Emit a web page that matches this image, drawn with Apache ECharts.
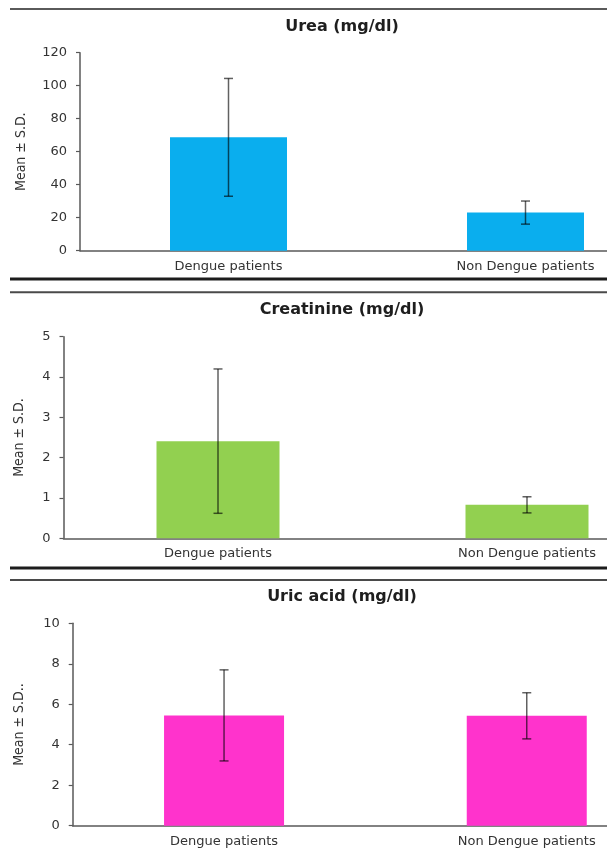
<!DOCTYPE html>
<html>
<head>
<meta charset="utf-8">
<script src="https://cdn.jsdelivr.net/npm/echarts@6/dist/echarts.min.js"></script>
<style>
html,body{margin:0;padding:0;background:#fff;overflow:hidden;}
#wrap{width:607px;height:850px;overflow:hidden;}
#chart{width:700px;height:850px;}
</style>
</head>
<body>
<div id="wrap"><div id="chart"></div></div>
<script>
// ---- data ----
var categories = ['Dengue patients', 'Non Dengue patients'];
var titles = ['Urea (mg/dl)', 'Creatinine (mg/dl)', 'Uric acid (mg/dl)'];
var yNames = ['Mean \u00B1 S.D.', 'Mean \u00B1 S.D.', 'Mean \u00B1 S.D..'];
var ureaMean = [68.7, 23.1];
var ureaSD = [35.7, 7.0];
var creatMean = [2.41, 0.83];
var creatSD = [1.79, 0.20];
var uricMean = [5.45, 5.43];
var uricSD = [2.25, 1.14];
var yMax = [120, 5, 10];
var yStep = [20, 1, 2];

var means = [ureaMean, creatMean, uricMean];
var sds = [ureaSD, creatSD, uricSD];
var colors = ['#0aaeee', '#92d050', '#ff33cc'];

// ---- layout ----
var grids = [
  {left: 80, top: 52.7, width: 594, height: 198},
  {left: 63.5, top: 336.7, width: 618, height: 201.6},
  {left: 72.7, top: 623.3, width: 605.4, height: 202.4}
];
var titleY = [28, 311.7, 598.3];
var nameGaps = [52, 37, 46];
var barWidths = [117, 123, 120];

var axisColor = '#595959';
var labelFont = 'DejaVu Sans';

var option = {
  animation: false,
  backgroundColor: '#ffffff',
  title: [],
  grid: [],
  xAxis: [],
  yAxis: [],
  series: [],
  graphic: []
};

for (var p = 0; p < 3; p++) {
  option.title.push({
    text: titles[p],
    left: 342,
    textAlign: 'center',
    top: titleY[p] - 9.5,
    padding: 0,
    textStyle: {fontFamily: labelFont, fontWeight: 'bold', fontSize: 16, color: '#1e1e1e'}
  });
  option.grid.push(grids[p]);
  option.xAxis.push({
    type: 'category',
    gridIndex: p,
    data: categories,
    axisLine: {lineStyle: {color: axisColor, width: 1.5}},
    axisTick: {show: false},
    axisLabel: {fontFamily: labelFont, fontSize: 13, color: '#333', margin: 9}
  });
  option.yAxis.push({
    type: 'value',
    gridIndex: p,
    min: 0,
    max: yMax[p],
    interval: yStep[p],
    name: yNames[p],
    nameLocation: 'middle',
    nameGap: nameGaps[p],
    nameTextStyle: {fontFamily: 'Liberation Sans Narrow, DejaVu Sans Condensed', fontSize: 14, color: '#333'},
    axisLine: {show: true, lineStyle: {color: axisColor, width: 1.5}},
    axisTick: {show: true, length: 4, lineStyle: {color: axisColor, width: 1.2}},
    axisLabel: {fontFamily: labelFont, fontSize: 13, color: '#333', margin: 13},
    splitLine: {show: false}
  });
  option.series.push({
    type: 'bar',
    xAxisIndex: p,
    yAxisIndex: p,
    data: means[p],
    barWidth: barWidths[p],
    itemStyle: {color: colors[p]}
  });
  var errData = means[p].map(function (m, i) {
    return [i, m - sds[p][i], m + sds[p][i]];
  });
  option.series.push({
    type: 'custom',
    xAxisIndex: p,
    yAxisIndex: p,
    data: errData,
    z: 10,
    renderItem: function (params, api) {
      var lo = api.coord([api.value(0), api.value(1)]);
      var hi = api.coord([api.value(0), api.value(2)]);
      var w = 4.5;
      var st = {stroke: 'rgba(0,0,0,0.62)', lineWidth: 1.5};
      return {
        type: 'group',
        children: [
          {type: 'line', shape: {x1: hi[0], y1: hi[1], x2: lo[0], y2: lo[1]}, style: st},
          {type: 'line', shape: {x1: hi[0] - w, y1: hi[1], x2: hi[0] + w, y2: hi[1]}, style: st},
          {type: 'line', shape: {x1: lo[0] - w, y1: lo[1], x2: lo[0] + w, y2: lo[1]}, style: st}
        ]
      };
    }
  });
}

// panel separator rules
var rules = [
  {y: 9, w: 2, c: '#5a5a5a'},
  {y: 279, w: 3, c: '#1c1c1c'},
  {y: 292.3, w: 2, c: '#4a4a4a'},
  {y: 568, w: 3, c: '#1c1c1c'},
  {y: 580, w: 2, c: '#4a4a4a'}
];
rules.forEach(function (r) {
  option.graphic.push({
    type: 'line',
    silent: true,
    shape: {x1: 10, y1: r.y, x2: 700, y2: r.y},
    style: {stroke: r.c, lineWidth: r.w}
  });
});

var chart = echarts.init(document.getElementById('chart'), null, {renderer: 'canvas'});
chart.setOption(option);
</script>
</body>
</html>
